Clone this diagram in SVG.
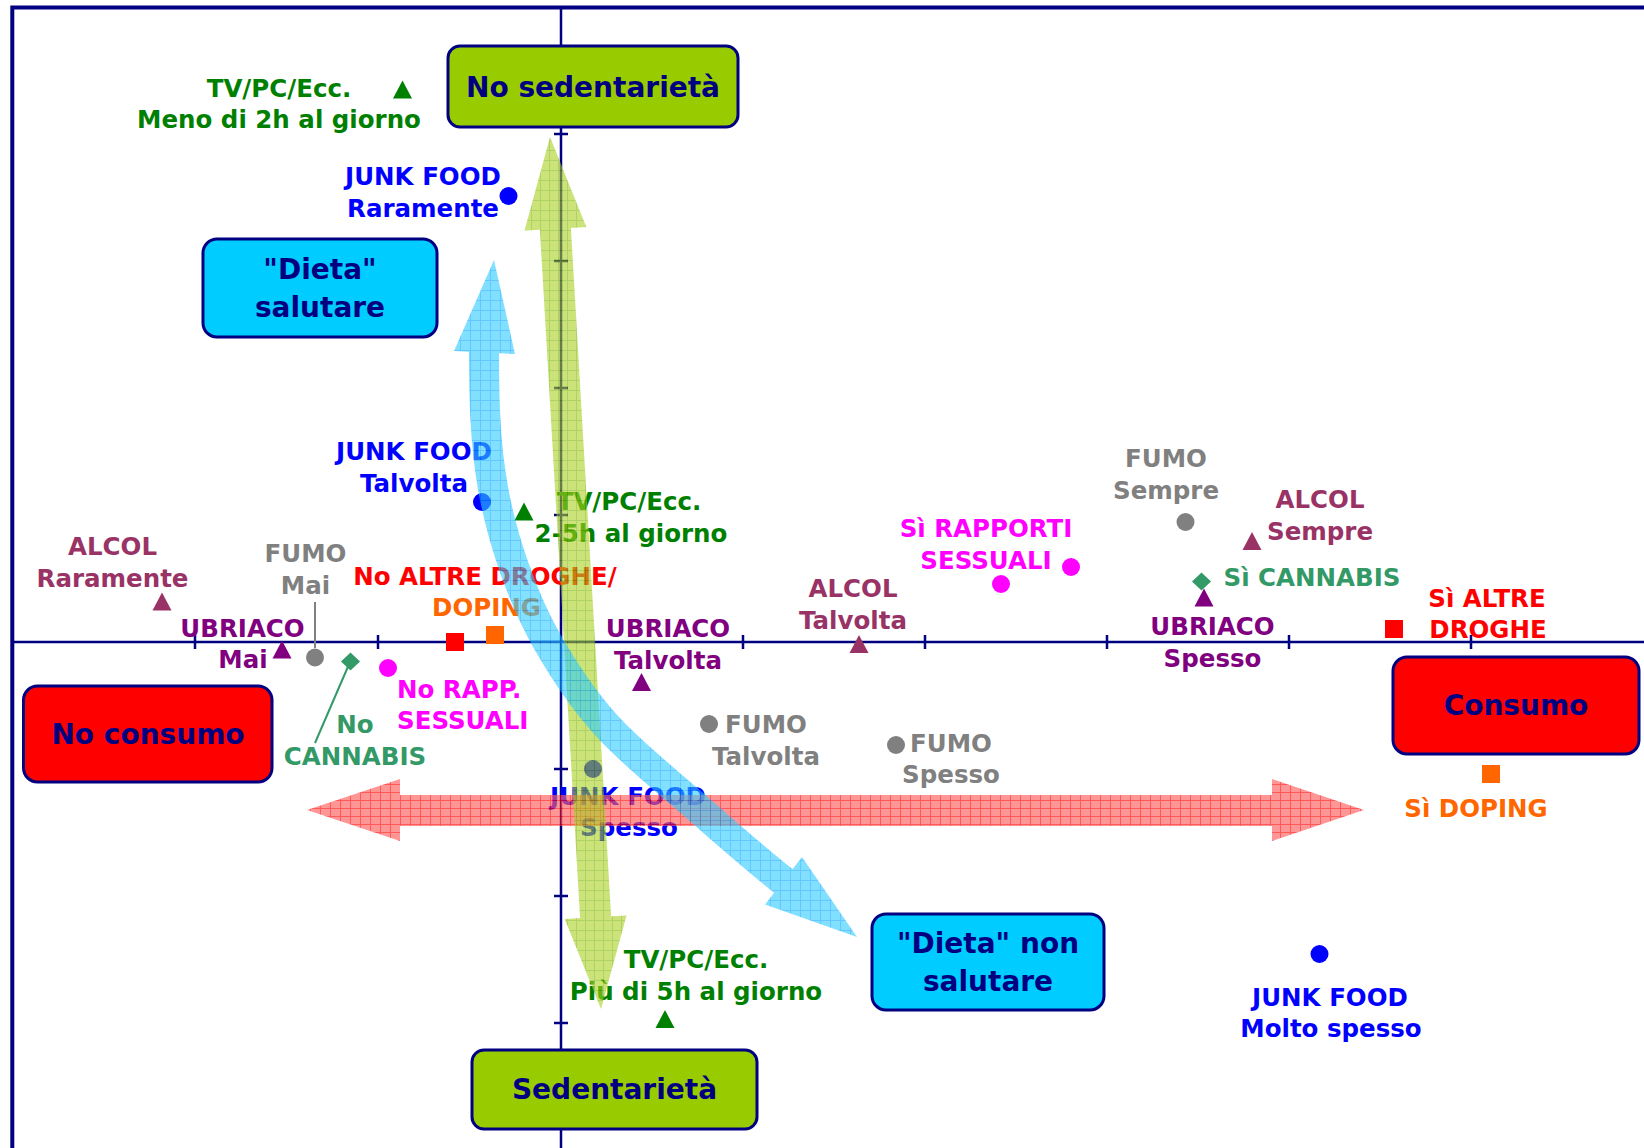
<svg xmlns="http://www.w3.org/2000/svg" width="1644" height="1148" viewBox="0 0 1644 1148">
<style>
.lbl{font-family:"DejaVu Sans",Verdana,"Liberation Sans",sans-serif;font-weight:bold;font-size:24.5px;text-anchor:middle}
.box{font-family:"DejaVu Sans",Verdana,"Liberation Sans",sans-serif;font-weight:bold;font-size:28px;text-anchor:middle;fill:#000080}
.nb{stroke:#000080;stroke-width:3}
.ax{stroke:#000080;stroke-width:2.5;fill:none}
.alc{fill:#993366}.ubr{fill:#800080}.fum{fill:#808080}.can{fill:#339966}.rap{fill:#FF00FF}
.dro{fill:#FF0000}.dop{fill:#FF6600}.jf{fill:#0000FF}.tv{fill:#008000}
</style>
<defs>
<pattern id="pr" width="10" height="8" patternUnits="userSpaceOnUse">
<rect width="10" height="8" fill="#FF5E5E"/>
<path d="M0 0.5H10M0.5 0V8" stroke="#FF0000" stroke-width="1"/>
</pattern>
<pattern id="pg" width="9" height="10" patternUnits="userSpaceOnUse">
<rect width="9" height="10" fill="#A8D020"/>
<path d="M0 0.5H9M0.5 0V10" stroke="#78B400" stroke-width="1"/>
</pattern>
<pattern id="pb" width="10" height="10" patternUnits="userSpaceOnUse">
<rect width="10" height="10" fill="#2FCDFF"/>
<path d="M0 0.5H10M0.5 0V10" stroke="#00A3FF" stroke-width="1"/>
</pattern>
<path id="tri" d="M0 -9L9.5 9H-9.5Z"/>
</defs>
<rect width="1644" height="1148" fill="#FFFFFF"/>

<g id="frame">
<path d="M12.3 1148V7.5H1644" stroke="#000080" stroke-width="4" fill="none"/>
</g>

<g id="axes">
<path class="ax" d="M561 7.5V1148M12 642H1644"/>
<path class="ax" d="M195 635V649M378 635V649M743 635V649M925 635V649M1107 635V649M1289 635V649M1471 635V649"/>
<path class="ax" d="M554 134H568M554 261H568M554 388H568M554 515H568M554 769H568M554 896H568M554 1023H568"/>
</g>

<g id="labels">
<g id="tv-meno">
<text class="lbl tv" x="279" y="97">TV/PC/Ecc.</text>
<text class="lbl tv" x="279" y="128">Meno di 2h al giorno</text>
<use href="#tri" class="tv" x="402.5" y="89.5"/>
</g>
<g id="jf-raramente">
<text class="lbl jf" x="423" y="185">JUNK FOOD</text>
<text class="lbl jf" x="423" y="217">Raramente</text>
<circle class="jf" cx="508.5" cy="196" r="9"/>
</g>
<g id="jf-talvolta">
<text class="lbl jf" x="414" y="460">JUNK FOOD</text>
<text class="lbl jf" x="414" y="492">Talvolta</text>
<circle class="jf" cx="482" cy="502" r="9"/>
</g>
<g id="tv-25">
<text class="lbl tv" x="629" y="510">TV/PC/Ecc.</text>
<text class="lbl tv" x="631" y="542">2-5h al giorno</text>
<use href="#tri" class="tv" x="524" y="511.5"/>
</g>
<g id="alcol-raramente">
<text class="lbl alc" x="112.5" y="555">ALCOL</text>
<text class="lbl alc" x="112.5" y="587">Raramente</text>
<use href="#tri" class="alc" x="162" y="601.5"/>
</g>
<g id="fumo-mai">
<text class="lbl fum" x="305.5" y="562">FUMO</text>
<text class="lbl fum" x="305.5" y="594">Mai</text>
<path d="M315 602V648" stroke="#808080" stroke-width="2"/>
<circle class="fum" cx="315" cy="657.5" r="9"/>
</g>
<g id="ubriaco-mai">
<text class="lbl ubr" x="242.5" y="637">UBRIACO</text>
<text class="lbl ubr" x="243" y="668">Mai</text>
<use href="#tri" class="ubr" x="282" y="649.5"/>
</g>
<g id="no-droghe-doping">
<text class="lbl dro" x="485" y="585">No ALTRE DROGHE/</text>
<text class="lbl dop" x="486.5" y="616">DOPING</text>
<rect class="dro" x="446" y="633" width="18" height="18"/>
<rect class="dop" x="486" y="626" width="18" height="18"/>
</g>
<g id="no-cannabis">
<text class="lbl can" x="355" y="733">No</text>
<text class="lbl can" x="355" y="765">CANNABIS</text>
<path d="M315 743L350 662" stroke="#339966" stroke-width="2"/>
<path class="can" d="M350.5 652.5L360 661.5L350.5 670.5L341 661.5Z"/>
</g>
<g id="no-rapporti">
<text class="lbl rap" x="397" y="698" style="text-anchor:start">No RAPP.</text>
<text class="lbl rap" x="397" y="729" style="text-anchor:start">SESSUALI</text>
<circle class="rap" cx="388" cy="668" r="9"/>
</g>
<g id="ubriaco-talvolta">
<text class="lbl ubr" x="668" y="637">UBRIACO</text>
<text class="lbl ubr" x="668" y="669">Talvolta</text>
<use href="#tri" class="ubr" x="641.5" y="682"/>
</g>
<g id="fumo-talvolta">
<text class="lbl fum" x="766" y="733">FUMO</text>
<text class="lbl fum" x="766" y="765">Talvolta</text>
<circle class="fum" cx="709" cy="724" r="9"/>
</g>
<g id="jf-spesso">
<text class="lbl jf" x="628" y="805">JUNK FOOD</text>
<text class="lbl jf" x="629" y="836">Spesso</text>
<circle class="jf" cx="593" cy="769" r="9"/>
</g>
<g id="tv-piu5">
<text class="lbl tv" x="696" y="968">TV/PC/Ecc.</text>
<text class="lbl tv" x="696" y="1000">Più di 5h al giorno</text>
<use href="#tri" class="tv" x="665" y="1019"/>
</g>
<g id="alcol-talvolta">
<text class="lbl alc" x="853" y="597">ALCOL</text>
<text class="lbl alc" x="853" y="629">Talvolta</text>
<use href="#tri" class="alc" x="859" y="644"/>
</g>
<g id="fumo-spesso">
<text class="lbl fum" x="951" y="752">FUMO</text>
<text class="lbl fum" x="951" y="783">Spesso</text>
<circle class="fum" cx="896" cy="745" r="9"/>
</g>
<g id="si-rapporti">
<text class="lbl rap" x="986" y="537">Sì RAPPORTI</text>
<text class="lbl rap" x="986" y="569">SESSUALI</text>
<circle class="rap" cx="1071" cy="567" r="9"/>
<circle class="rap" cx="1001" cy="584" r="9"/>
</g>
<g id="fumo-sempre">
<text class="lbl fum" x="1166" y="467">FUMO</text>
<text class="lbl fum" x="1166" y="499">Sempre</text>
<circle class="fum" cx="1185.5" cy="522" r="9"/>
</g>
<g id="alcol-sempre">
<text class="lbl alc" x="1320" y="508">ALCOL</text>
<text class="lbl alc" x="1320" y="540">Sempre</text>
<use href="#tri" class="alc" x="1252" y="541"/>
</g>
<g id="si-cannabis">
<text class="lbl can" x="1312" y="586">Sì CANNABIS</text>
<path class="can" d="M1201.5 572.5L1211 581.5L1201.5 590.5L1192 581.5Z"/>
</g>
<g id="ubriaco-spesso">
<use href="#tri" class="ubr" x="1204" y="597.5"/>
<text class="lbl ubr" x="1212.5" y="635">UBRIACO</text>
<text class="lbl ubr" x="1212.5" y="667">Spesso</text>
</g>
<g id="si-droghe">
<text class="lbl dro" x="1487" y="607">Sì ALTRE</text>
<text class="lbl dro" x="1488" y="638">DROGHE</text>
<rect class="dro" x="1385" y="620" width="18" height="18"/>
</g>
<g id="si-doping">
<rect class="dop" x="1482" y="765" width="18" height="18"/>
<text class="lbl dop" x="1476" y="817">Sì DOPING</text>
</g>
<g id="jf-molto">
<circle class="jf" cx="1319.5" cy="954" r="9"/>
<text class="lbl jf" x="1330" y="1006">JUNK FOOD</text>
<text class="lbl jf" x="1331" y="1037">Molto spesso</text>
</g>
</g>

<g id="connectors">
<g id="arrow-consumo" opacity="0.65">
<path fill="url(#pr)" d="M307 810L400 779V795H1272V779L1364 810L1272 841V826H400V841Z"/>
</g>
<g id="arrow-sedentarieta" opacity="0.6">
<path fill="url(#pg)" d="M550 137L586.3 227L570.9 227.9L611.1 916.3L626.5 915.4L601 1009L564.7 919L580.1 918.1L539.9 229.7L524.5 230.6Z"/>
</g>
<g id="arrow-dieta" opacity="0.6">
<path d="M484 345C484 392.7 484.4 440.3 493 488C497.7 514.3 504.8 540.7 514 567C522.9 592.3 533.3 617.7 548 643C563.8 670.3 581.4 697.7 606 725C629.7 751.3 662.8 777.7 693 804C724.4 831.3 754.5 858.7 790 886" fill="none" stroke="url(#pb)" stroke-width="30"/>
<path fill="url(#pb)" d="M494 260L515 354L454 351Z"/>
<path fill="url(#pb)" d="M857 937L765 904.5L802 857Z"/>
</g>
</g>

<g id="node-no-sedentarieta">
<rect class="nb" x="448" y="46" width="290" height="81" rx="12" fill="#99CC00"/>
<text class="box" x="593" y="97">No sedentarietà</text>
</g>
<g id="node-sedentarieta">
<rect class="nb" x="472" y="1050" width="285" height="79" rx="12" fill="#99CC00"/>
<text class="box" x="614.5" y="1099">Sedentarietà</text>
</g>
<g id="node-dieta-salutare">
<rect class="nb" x="203" y="239" width="234" height="98" rx="14" fill="#00CCFF"/>
<text class="box" x="320" y="279">"Dieta"</text>
<text class="box" x="320" y="317">salutare</text>
</g>
<g id="node-dieta-non-salutare">
<rect class="nb" x="872" y="914" width="232" height="96" rx="14" fill="#00CCFF"/>
<text class="box" x="988" y="953">"Dieta" non</text>
<text class="box" x="988" y="991">salutare</text>
</g>
<g id="node-no-consumo">
<rect class="nb" x="23.5" y="686" width="248.5" height="96" rx="14" fill="#FF0000"/>
<text class="box" x="148" y="744">No consumo</text>
</g>
<g id="node-consumo">
<rect class="nb" x="1393" y="657" width="246" height="97" rx="14" fill="#FF0000"/>
<text class="box" x="1516" y="715">Consumo</text>
</g>
</svg>
